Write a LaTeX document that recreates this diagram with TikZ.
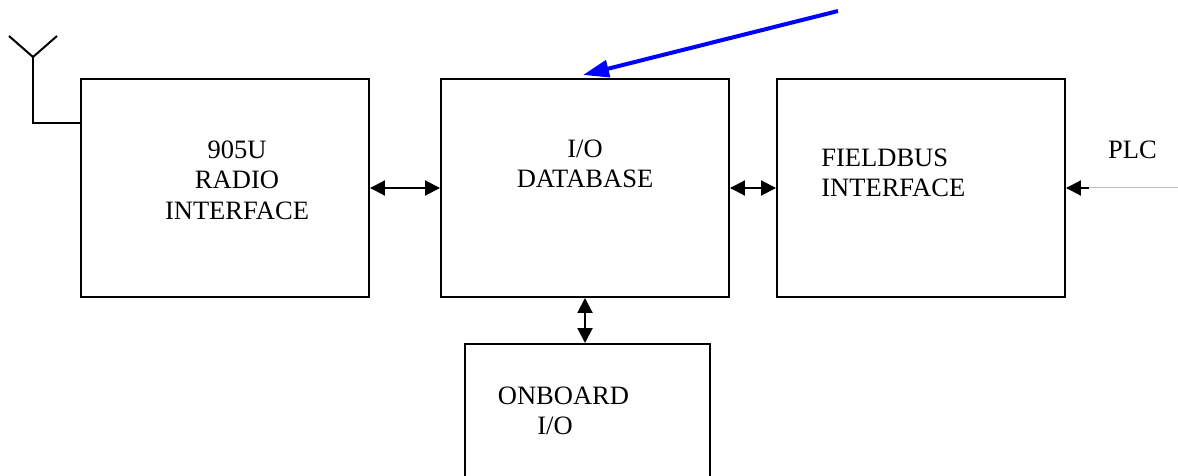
\documentclass[tikz,border=0pt]{standalone}
\usepackage{fontspec}
\setmainfont{Liberation Serif}
\usetikzlibrary{arrows.meta}
\definecolor{linegrey}{gray}{0.75}
\tikzset{
  blockbox/.style={draw=black, line width=0.04cm, inner sep=0pt},
  blocktext/.style={align=center, inner sep=0pt, font=\fontsize{15.1}{17.4}\selectfont},
  link/.style={line width=0.04cm, {Triangle[length=0.3cm,width=0.3cm]}-{Triangle[length=0.3cm,width=0.3cm]}},
  feed/.style={line width=0.04cm, {Triangle[length=0.3cm,width=0.3cm]}-},
}
\begin{document}
\begin{tikzpicture}[x=0.02cm, y=-0.02cm]

    \useasboundingbox (0, 0) rectangle (1178, 476);

    % blocs
    \node[blockbox, minimum width=5.76cm, minimum height=4.36cm] (radio) at (225, 188) {};
    \node[blockbox, minimum width=5.76cm, minimum height=4.36cm] (iodb) at (585, 188) {};
    \node[blockbox, minimum width=5.76cm, minimum height=4.36cm] (field) at (921, 188) {};
    \node[blockbox, minimum width=4.9cm, minimum height=3.6cm] (onboard) at (587.5, 434) {};

    % textes
    \node[blocktext] (radiotxt) at (237, 180) {905U\\RADIO\\INTERFACE};
    \node[blocktext] (iotxt) at (585, 164) {I/O\\DATABASE};
    \node[blocktext, align=left, anchor=west] (fieldtxt) at (821, 173) {FIELDBUS\\INTERFACE};
    \node[blocktext, anchor=base] (onboardtxt) at (563.5, 405) {ONBOARD};
    \node[blocktext, anchor=base] (onboardio) at (555, 435) {I/O};
    \node[blocktext, anchor=base] (plc) at (1132.5, 159) {PLC};

    % liaisons
    \draw[link] (radio.east) -- (iodb.west);
    \draw[link] (iodb.east) -- (field.west);
    \draw[link] (iodb.south) -- (iodb.south |- onboard.north);

    % entree PLC
    \coordinate (plcstub) at (1089, 188);
    \coordinate (plcend) at (1178, 188);
    \draw[draw=linegrey, line width=0.02cm] (plcstub) -- (plcend);
    \draw[feed] (field.east) -- (plcstub);

    % antenne
    \coordinate (antfoot) at (33, 123);
    \coordinate (antbase) at (33, 57);
    \coordinate (antleft) at (9, 36);
    \coordinate (antright) at (57, 36);
    \draw[line width=0.04cm] (radio.west |- antfoot) -- (antfoot) -- (antbase);
    \draw[line width=0.04cm] (antleft) -- (antbase) -- (antright);

    % fleche bleue
    \coordinate (bluestart) at (838, 11);
    \coordinate (bluetip) at (583, 75);
    \draw[blue, line width=0.08cm, -{Triangle[length=0.52cm,width=0.34cm]}] (bluestart) -- (bluetip);

\end{tikzpicture}
\end{document}
